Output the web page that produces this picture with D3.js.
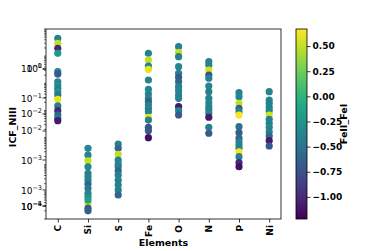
<!DOCTYPE html>
<html>
<head>
<meta charset="utf-8">
<script src="https://cdn.jsdelivr.net/npm/d3@7"></script>
<style>
  body { margin: 0; background: #fff; }
  text { font-family: "DejaVu Sans", sans-serif; }
</style>
</head>
<body>
<div id="chart"></div>
<script>
const elements = ['C', 'Si', 'S', 'Fe', 'O', 'N', 'P', 'Ni'];

// ICF values per element, and the FeII_FeI colour value of each point
const icfC = [4.5, 2.97, 1.95, 1.27, 0.267, 0.22, 0.114, 0.0865, 0.0653, 0.049, 0.037, 0.0257, 0.0146, 0.0098, 0.00678, 0.00513, 0.00418];
const feC = [-0.37, 0.5, -1.0, -0.2, -0.4, -0.7, -0.35, -0.3, -0.4, -0.25, -0.45, 0.6, -0.4, -1.0, -0.6, -0.45, -1.1];
const icfSi = [4.02e-4, 2.28e-4, 1.4e-4, 8.4e-5, 4.8e-5, 3.6e-5, 2.7e-5, 1.95e-5, 1.35e-5, 8.8e-6, 6.6e-6, 3.8e-6, 5.0e-6, 2.5e-6, 2.0e-6];
const feSi = [-0.35, -0.4, 0.5, -0.35, -0.4, -0.38, -0.36, -0.6, -0.45, -0.38, -0.35, 0.55, -0.15, -0.7, -0.65];
const icfS = [5.8e-4, 4.02e-4, 2.42e-4, 1.49e-4, 1.06e-4, 8.4e-5, 6.0e-5, 4.2e-5, 2.7e-5, 1.79e-5, 1.17e-5, 7.7e-6];
const feS = [-0.38, -0.6, 0.5, -0.38, -0.35, -0.4, -0.6, -0.38, -0.36, -0.4, -0.38, -0.6];
const icfFe = [1.27, 0.72, 0.434, 0.327, 0.132, 0.06, 0.0403, 0.028, 0.021, 0.0158, 0.012, 0.009, 0.0056, 0.0044, 0.0024, 0.00179, 0.00099];
const feFe = [-0.38, 0.5, -0.38, 0.6, -0.38, -0.36, -0.4, -0.4, -0.65, -0.38, -0.36, -0.4, 0.6, -0.4, -0.7, -0.7, -1.15];
const icfO = [2.23, 1.38, 0.953, 0.408, 0.233, 0.166, 0.114, 0.0748, 0.0533, 0.037, 0.028, 0.0137, 0.0098, 0.00678];
const feO = [-0.38, 0.5, -0.38, -0.36, -0.4, -0.7, -0.6, -0.38, -0.36, -0.4, -0.38, -1.1, -0.38, -0.7];
const icfN = [0.624, 0.472, 0.308, 0.202, 0.153, 0.0794, 0.049, 0.028, 0.0192, 0.0137, 0.0104, 0.00783, 0.0056, 0.0024, 0.00144];
const feN = [-0.38, -0.36, 0.55, -0.75, -0.38, -0.36, -0.4, -0.38, -0.36, -0.4, -0.38, -0.36, -1.1, -0.38, -0.7];
const icfP = [0.045, 0.032, 0.0183, 0.012, 0.009, 0.00678, 0.00251, 0.00151, 9.4e-4, 7.0e-4, 5.3e-4, 4.02e-4, 3.0e-4, 1.97e-4, 1.19e-4, 8.4e-5];
const feP = [-0.38, -0.36, 0.5, -0.6, -0.38, 0.65, -0.5, -0.65, -0.6, -0.38, -0.36, -0.4, 0.65, -0.38, -1.0, -1.15];
const icfNi = [0.049, 0.0242, 0.0183, 0.013, 0.0098, 0.00678, 0.0047, 0.00335, 0.0024, 0.00164, 0.00114, 7.7e-4, 4.9e-4];
const feNi = [-0.38, -0.36, -0.4, -0.38, -0.36, 0.55, -0.38, -0.4, -0.36, -0.38, -0.6, -1.1, -0.7];

// y tick values and their (overlapping) labels, as in the source figure
const yTickValues = [0.336, 0.336, 0.0287, 0.0074, 0.00175, 1.49e-4, 1.17e-5, 3.0e-6, 3.0e-6];
const yTickLabels = ['0', '\u22121', '\u22121', '\u22122', '\u22122', '\u22123', '\u22123', '\u22124', '\u22125'];
const cbTicks = [0.5, 0.25, 0, -0.25, -0.5, -0.75, -1.0];
const cbDomain = [-1.22, 0.67];

const icf = [icfC, icfSi, icfS, icfFe, icfO, icfN, icfP, icfNi];
const fe = [feC, feSi, feS, feFe, feO, feN, feP, feNi];
const points = [];
elements.forEach((el, i) => {
    icf[i].forEach((v, j) => points.push({ el, icf: v, fe: fe[i][j] }));
});

const W = 377, H = 251;
const plot = { left: 46, right: 281, top: 29, bottom: 219 };

const svg = d3.select('#chart').append('svg')
    .attr('width', W).attr('height', H);

const x = d3.scalePoint().domain(elements)
    .range([plot.left, plot.right]).padding(0.39);
const y = d3.scaleLog().domain([1e-6, 10])
    .range([plot.bottom, plot.top]);
const color = d3.scaleSequential(d3.interpolateViridis).domain(cbDomain);

// points
svg.append('g').selectAll('circle')
    .data(points)
    .join('circle')
    .attr('cx', d => x(d.el))
    .attr('cy', d => y(d.icf))
    .attr('r', 3.6)
    .attr('fill', d => color(d.fe));

// minor y ticks
svg.append('g').selectAll('line')
    .data(y.ticks())
    .join('line')
    .attr('x1', plot.left - 2).attr('x2', plot.left)
    .attr('y1', d => y(d)).attr('y2', d => y(d))
    .attr('stroke', '#000').attr('stroke-width', 0.6);

// major y ticks with labels
const yt = svg.append('g');
yTickValues.forEach((v, i) => {
    const py = y(v);
    yt.append('line')
        .attr('x1', plot.left - 3.5).attr('x2', plot.left)
        .attr('y1', py).attr('y2', py)
        .attr('stroke', '#000').attr('stroke-width', 0.8);
    const t = yt.append('text')
        .attr('x', plot.left - 4).attr('y', py + 3.5)
        .attr('text-anchor', 'end')
        .attr('font-size', 9).attr('fill', '#000');
    t.append('tspan').text('10');
    t.append('tspan').attr('dy', -4).attr('font-size', 6.5).text(yTickLabels[i]);
});

// x axis
const xa = svg.append('g')
    .attr('transform', `translate(0,${plot.bottom})`)
    .call(d3.axisBottom(x).tickSize(3.5).tickPadding(2).tickFormat(''));
xa.select('.domain').remove();
xa.selectAll('line').attr('stroke-width', 0.8);
elements.forEach(el => {
    svg.append('text')
        .attr('transform', `translate(${x(el) + 3.5},${plot.bottom + 6}) rotate(-90)`)
        .attr('text-anchor', 'end')
        .attr('font-size', 9).attr('font-weight', 'bold')
        .text(el);
});

// frame
svg.append('rect')
    .attr('x', plot.left).attr('y', plot.top)
    .attr('width', plot.right - plot.left).attr('height', plot.bottom - plot.top)
    .attr('fill', 'none').attr('stroke', '#000').attr('stroke-width', 0.8);

svg.append('text')
    .attr('x', (plot.left + plot.right) / 2).attr('y', 246)
    .attr('text-anchor', 'middle')
    .attr('font-size', 9.5).attr('font-weight', 'bold')
    .text('Elements');

svg.append('text')
    .attr('transform', `translate(16,${(plot.top + plot.bottom) / 2 + 3}) rotate(-90)`)
    .attr('text-anchor', 'middle')
    .attr('font-size', 9.5).attr('font-weight', 'bold')
    .text('ICF_NIII');

// colorbar
const cb = { left: 296, width: 11, top: 29, bottom: 219 };
const cy = d3.scaleLinear().domain(cbDomain).range([cb.bottom, cb.top]);
const defs = svg.append('defs');
const grad = defs.append('linearGradient').attr('id', 'vir')
    .attr('x1', 0).attr('y1', 1).attr('x2', 0).attr('y2', 0);
d3.range(0, 1.0001, 0.1).forEach(t => {
    grad.append('stop').attr('offset', t).attr('stop-color', d3.interpolateViridis(t));
});
svg.append('rect')
    .attr('x', cb.left).attr('y', cb.top)
    .attr('width', cb.width).attr('height', cb.bottom - cb.top)
    .attr('fill', 'url(#vir)').attr('stroke', '#000').attr('stroke-width', 0.8);

const ca = svg.append('g')
    .attr('transform', `translate(${cb.left + cb.width},0)`)
    .call(d3.axisRight(cy).tickValues(cbTicks).tickSize(3.5).tickPadding(2)
        .tickFormat(d => d3.format('.2f')(d).replace('-', '\u2212')));
ca.select('.domain').remove();
ca.selectAll('line').attr('stroke-width', 0.8);
ca.selectAll('text')
    .attr('font-size', 9).attr('font-weight', 'bold')
    .attr('font-family', '"DejaVu Sans", sans-serif').attr('fill', '#000');

svg.append('text')
    .attr('transform', `translate(347,${(cb.top + cb.bottom) / 2}) rotate(-90)`)
    .attr('text-anchor', 'middle')
    .attr('font-size', 9.5).attr('font-weight', 'bold')
    .text('FeII_FeI');
</script>
</body>
</html>
